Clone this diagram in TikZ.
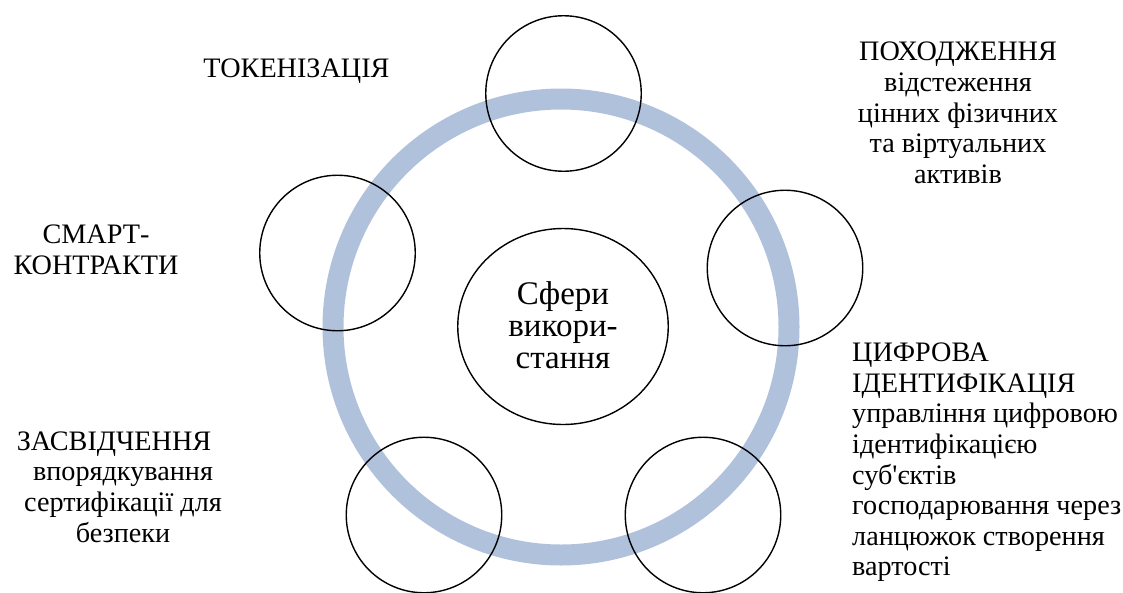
\documentclass[tikz,border=0pt]{standalone}
\usepackage{fontspec}
\setmainfont{Liberation Serif}
\newfontfamily\plainapos{Liberation Serif}
\usetikzlibrary{shapes.geometric}
\definecolor{ringblue}{RGB}{176,193,220}
\begin{document}
\begin{tikzpicture}[x=1pt,y=-1pt,
  circ/.style={draw=black, line width=1.4pt, circle, minimum size=155.5pt, inner sep=0pt},
  lbl/.style={font=\fontsize{28.2}{30.6}\selectfont, inner sep=0pt, anchor=base},
  ctr/.style={font=\fontsize{33}{32}\selectfont, inner sep=0pt, anchor=base, align=center}]
\useasboundingbox (0,0) rectangle (1123,592);
\draw[ringblue, line width=21pt] (561,327) circle[radius=228];
\node[circ] (ctop) at (563.5,93.5) {};
\node[circ] (cright) at (785,268) {};
\node[circ] (cbr) at (703,515) {};
\node[circ] (cbl) at (424,515) {};
\node[circ] (cleft) at (337.5,253) {};
\node[draw=black, line width=1.4pt, ellipse, minimum width=210.5pt, minimum height=196pt, inner sep=0pt] (center) at (563,326.5) {};
\node[ctr] (ctext) at (563,368) {Сфери\\викори-\\стання};
\node[lbl] (tok) at (296.5,77) {ТОКЕНІЗАЦІЯ};
\node[lbl, align=center] (pox) at (958,183.3) {ПОХОДЖЕННЯ\\відстеження\\цінних фізичних\\та віртуальних\\активів};
\node[lbl, align=center] (smart) at (96,274) {СМАРТ-\\КОНТРАКТИ};
\node[lbl, align=center] (zasv) at (123,542) {ЗАСВІДЧЕННЯ\hspace*{18pt}\\впорядкування\\сертифікації для\\безпеки};
\node[lbl, align=left, anchor=base west] (cyfr) at (852,575.8) {ЦИФРОВА\\ІДЕНТИФІКАЦІЯ\\управління цифровою\\ідентифікацією\\суб{\plainapos '}єктів\\господарювання через\\ланцюжок створення\\вартості};
\end{tikzpicture}
\end{document}
